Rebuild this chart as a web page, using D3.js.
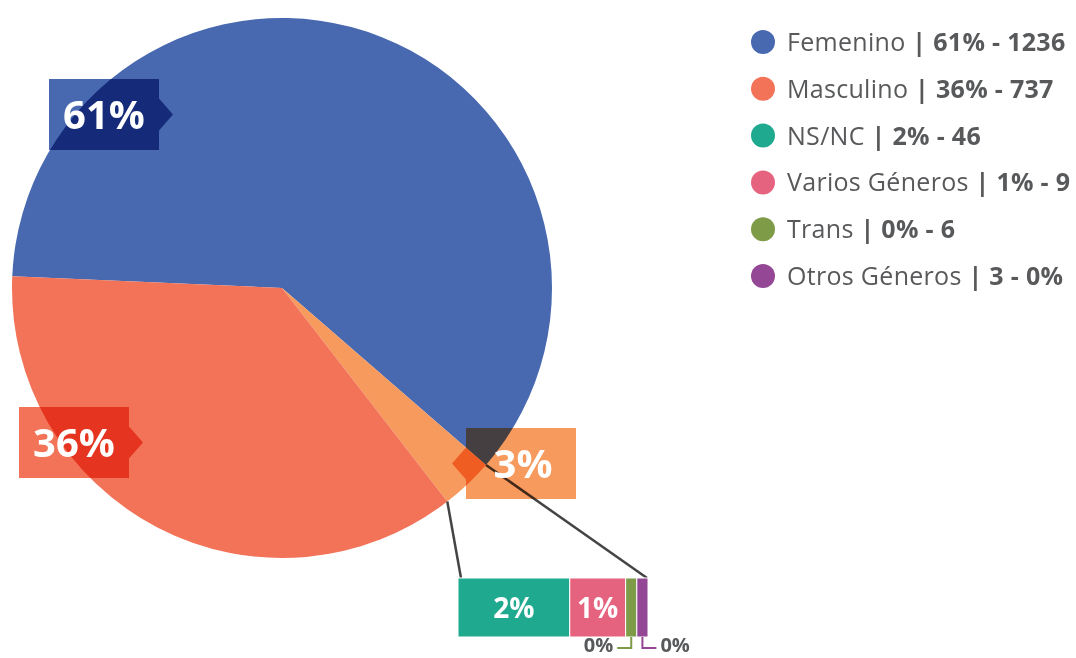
<!DOCTYPE html>
<html>
<head>
<meta charset="utf-8">
<script src="https://cdn.jsdelivr.net/npm/d3@7"></script>
<style>
body { margin: 0; background: #fff; }
svg { display: block; font-family: "Open Sans", sans-serif; }
</style>
</head>
<body>
<script>
// data
var genders = ["Femenino", "Masculino", "NS/NC", "Varios Géneros", "Trans", "Otros Géneros"];
var counts = [1236, 737, 46, 9, 6, 3];
var legendValues = ["61% - 1236", "36% - 737", "2% - 46", "1% - 9", "0% - 6", "3 - 0%"];
var colors = ["#4868b0", "#f27358", "#1faa8f", "#e5637f", "#7e9b48", "#934794"];

var pieGroups = ["Femenino", "Otros", "Masculino"];
var pieValues = [1236, 64, 737];
var pieLabels = ["61%", "3%", "36%"];
var pieColors = ["#4868b0", "#f79a5e", "#f27358"];

var barGroups = ["NS/NC", "Varios Géneros", "Trans", "Otros Géneros"];
var barPct = [2, 1, 0, 0];
var barLabels = ["2%", "1%", "0%", "0%"];
var barColors = ["#1faa8f", "#e5637f", "#7e9b48", "#934794"];

var width = 1076,
	height = 658;

var svg = d3.select("body").append("svg")
	.attr("width", width)
	.attr("height", height);

// pie
var cx = 282, cy = 288, radius = 270;
var start = -87.5 * Math.PI / 180;

var pie = d3.pie().sort(null)
	.startAngle(start)
	.endAngle(start + 2 * Math.PI);

var arcs = pie(pieValues);
var arc = d3.arc().innerRadius(0).outerRadius(radius);

var pieG = svg.append("g")
	.attr("transform", "translate(" + cx + "," + cy + ")");

pieG.selectAll("path")
	.data(arcs)
	.enter().append("path")
	.attr("d", arc)
	.style("fill", function(d, i) { return pieColors[i]; });

// bar with the small groups
var minPct = 0.2;
var shown = barPct.map(function(d) { return Math.max(d, minPct); });
var x = d3.scaleLinear().domain([0, d3.sum(shown)]).range([458, 648]);
var barTop = 578, barH = 59;
var offs = [0];
shown.forEach(function(d, i) { offs.push(offs[i] + d); });

// connector lines from the small slice to the bar
var other = arcs[1];
function edge(a) {
	return [cx + radius * Math.sin(a), cy - radius * Math.cos(a)];
}
var pEnd = edge(other.endAngle), pStart = edge(other.startAngle);
svg.append("line")
	.attr("x1", pEnd[0]).attr("y1", pEnd[1])
	.attr("x2", x(0) + 3).attr("y2", barTop)
	.style("stroke", "#444").style("stroke-width", 2.5);
svg.append("line")
	.attr("x1", pStart[0]).attr("y1", pStart[1])
	.attr("x2", x(d3.sum(shown)) - 1).attr("y2", barTop)
	.style("stroke", "#444").style("stroke-width", 2.5);

svg.selectAll("rect.seg")
	.data(shown)
	.enter().append("rect")
	.attr("class", "seg")
	.attr("x", function(d, i) { return x(offs[i]); })
	.attr("y", barTop)
	.attr("width", function(d, i) { return x(offs[i] + d) - x(offs[i]); })
	.attr("height", barH)
	.style("fill", function(d, i) { return barColors[i]; })
	.style("stroke", "#fff")
	.style("stroke-width", 1);

svg.selectAll("text.seg")
	.data(barPct.filter(function(d) { return d > 0; }))
	.enter().append("text")
	.attr("class", "seg")
	.attr("x", function(d, i) { return (x(offs[i]) + x(offs[i + 1])) / 2; })
	.attr("y", barTop + barH / 2 + 10)
	.attr("text-anchor", "middle")
	.style("fill", "#fff")
	.style("font-weight", 700)
	.style("font-size", "28px")
	.text(function(d, i) { return barLabels[i]; });

// leader labels for the 0% groups
[2, 3].forEach(function(i, k) {
	var mx = (x(offs[i]) + x(offs[i + 1])) / 2;
	var ly = 648;
	var dir = k === 0 ? -1 : 1;
	svg.append("path")
		.attr("d", "M" + mx + "," + (barTop + barH) + "V" + ly + "H" + (mx + dir * 14))
		.style("fill", "none")
		.style("stroke", barColors[i])
		.style("stroke-width", 2);
	svg.append("text")
		.attr("x", mx + dir * 18)
		.attr("y", 652)
		.attr("text-anchor", dir < 0 ? "end" : "start")
		.style("fill", "#58595b")
		.style("font-weight", 700)
		.style("font-size", "20px")
		.text(barLabels[i]);
});

// pie labels: boxes with pointer, multiplied over the pie
var boxes = [
	{x: 49, y: 79, side: "right"},
	{x: 466, y: 428, side: "left"},
	{x: 19, y: 407, side: "right"}
];
var bw = 110, bh = 71, tip = 14, half = 16;

boxes.forEach(function(b, i) {
	var my = b.y + bh / 2;
	var p;
	if (b.side === "right") {
		p = "M" + b.x + "," + b.y + "H" + (b.x + bw) + "V" + (my - half) +
			"L" + (b.x + bw + tip) + "," + my + "L" + (b.x + bw) + "," + (my + half) +
			"V" + (b.y + bh) + "H" + b.x + "Z";
	} else {
		p = "M" + b.x + "," + b.y + "H" + (b.x + bw) + "V" + (b.y + bh) + "H" + b.x +
			"V" + (my + half) + "L" + (b.x - tip) + "," + my + "L" + b.x + "," + (my - half) + "Z";
	}
	svg.append("path")
		.attr("d", p)
		.style("fill", pieColors[i])
		.style("mix-blend-mode", "multiply");
	svg.append("text")
		.attr("x", b.x + bw / 2 + (b.side === "left" ? 2 : 0))
		.attr("y", my + 14)
		.attr("text-anchor", "middle")
		.style("fill", "#fff")
		.style("font-weight", 700)
		.style("font-size", "40px")
		.text(pieLabels[i]);
});

// legend
var legend = svg.append("g")
	.attr("transform", "translate(763,42)");

var rows = legend.selectAll("g")
	.data(genders)
	.enter().append("g")
	.attr("transform", function(d, i) { return "translate(0," + (i * 46.8) + ")"; });

rows.append("circle")
	.attr("r", 12)
	.style("fill", function(d, i) { return colors[i]; });

var lt = rows.append("text")
	.attr("x", 24)
	.attr("y", 9)
	.style("fill", "#58595b")
	.style("font-size", "25px")
	.style("letter-spacing", "0.3px");
lt.append("tspan").text(function(d) { return d + " "; });
lt.append("tspan")
	.style("font-weight", 700)
	.text(function(d, i) { return "| " + legendValues[i]; });
</script>
</body>
</html>
